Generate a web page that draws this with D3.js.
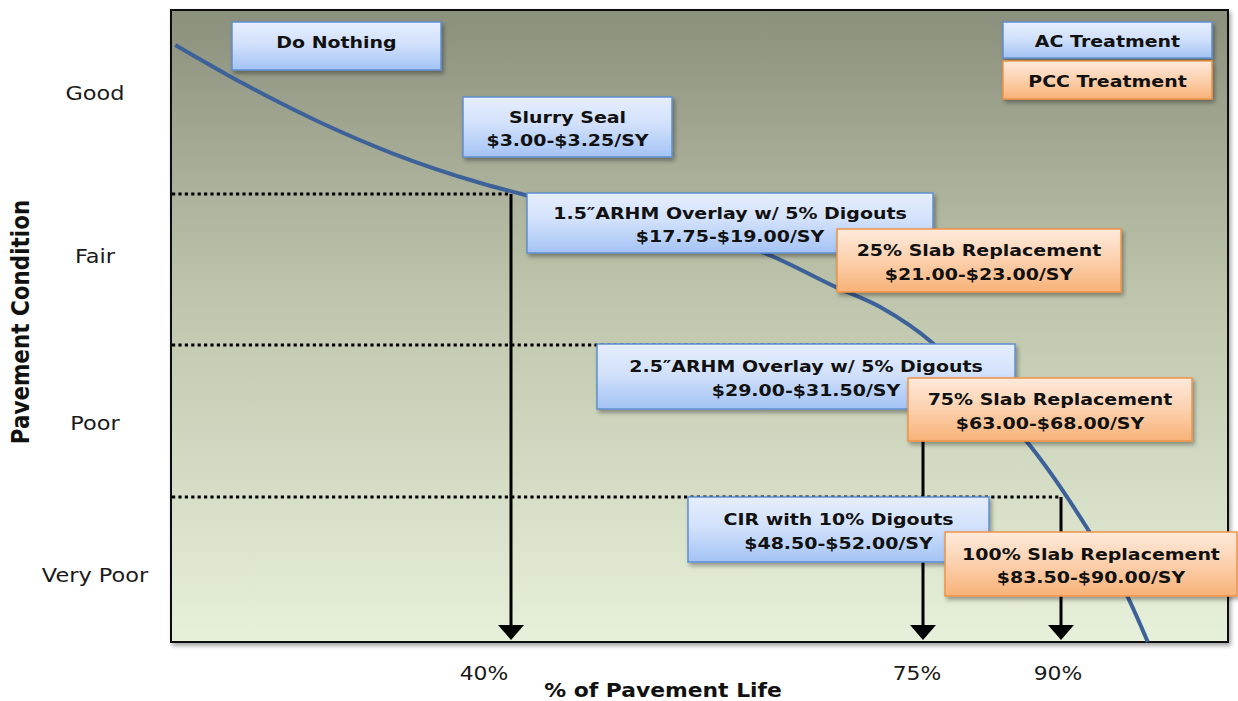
<!DOCTYPE html>
<html>
<head>
<meta charset="utf-8">
<script src="https://cdn.jsdelivr.net/npm/d3@7/dist/d3.min.js"></script>
<style>
  html, body { margin: 0; padding: 0; background: #ffffff; }
  svg { display: block; font-family: "DejaVu Sans", Verdana, sans-serif; }
</style>
</head>
<body>
<svg id="chart" width="1238" height="701"></svg>
<script>
// ---------------- data ----------------
// deterioration curve: % of pavement life vs condition index (0 = bottom, 4 = top)
const lifePct   = [0.5, 8.5, 17.5, 26.1, 36.4, 41.4, 51.6, 61.8, 67.7, 71.4, 76.1, 81.2, 86.6, 91.7, 94.0, 95.2];
const condition = [3.81, 3.60, 3.39, 3.22, 3.06, 2.99, 2.81, 2.60, 2.38, 2.25, 2.01, 1.69, 1.34, 0.76, 0.31, 0.0];

// condition categories (y axis) and their tick positions on the condition index
const conditionLabels = ["Good", "Fair", "Poor", "Very Poor"];
const conditionTicks  = [3.55, 2.59, 1.49, 0.46];

// trigger points (x tick labels)
const triggerPct    = [40, 75, 90];
const triggerLevel  = [3, 2, 1];
const triggerLabels = ["40%", "75%", "90%"];

// treatments
const treatmentName = ["Do Nothing", "Slurry Seal", "1.5\u2033ARHM Overlay w/ 5% Digouts", "25% Slab Replacement",
                       "2.5\u2033ARHM Overlay w/ 5% Digouts", "75% Slab Replacement", "CIR with 10% Digouts", "100% Slab Replacement"];
const treatmentCost = ["", "$3.00-$3.25/SY", "$17.75-$19.00/SY", "$21.00-$23.00/SY",
                       "$29.00-$31.50/SY", "$63.00-$68.00/SY", "$48.50-$52.00/SY", "$83.50-$90.00/SY"];
const treatmentType = ["AC", "AC", "AC", "PCC", "AC", "PCC", "AC", "PCC"];

const legendLabels = ["AC Treatment", "PCC Treatment"];
const legendTypes  = ["AC", "PCC"];

// ---------------- layout ----------------
const W = 1238, H = 701;
const plot = { left: 171, top: 10, right: 1228, bottom: 642 };
// annotation box geometry (x, y, w, h) in px
const boxLayout = [
  [232, 22, 209, 48], [463, 97, 209, 60], [527, 193, 406, 60], [837, 229, 284, 63],
  [597, 344, 418, 65], [908, 378, 284, 63], [688, 497, 301, 65], [945, 532, 292, 64]
];
const legendLayout = [[1003, 22, 209, 36], [1003, 61, 209, 38]];
const tickDx = [-27, -6, -3];
const SX = 1.15; // horizontal text stretch of the original slide

const svg = d3.select("#chart");
const defs = svg.append("defs");

const bg = defs.append("linearGradient").attr("id", "bg").attr("x1", 0).attr("y1", 0).attr("x2", 0).attr("y2", 1);
bg.append("stop").attr("offset", "0%").attr("stop-color", "#8b907d");
bg.append("stop").attr("offset", "45%").attr("stop-color", "#bec5ac");
bg.append("stop").attr("offset", "100%").attr("stop-color", "#e7f0da");

const gAC = defs.append("linearGradient").attr("id", "gAC").attr("x1", 0).attr("y1", 0).attr("x2", 0).attr("y2", 1);
gAC.append("stop").attr("offset", "0%").attr("stop-color", "#e6eefd");
gAC.append("stop").attr("offset", "45%").attr("stop-color", "#d2e1fb");
gAC.append("stop").attr("offset", "100%").attr("stop-color", "#a3c3f4");

const gPCC = defs.append("linearGradient").attr("id", "gPCC").attr("x1", 0).attr("y1", 0).attr("x2", 0).attr("y2", 1);
gPCC.append("stop").attr("offset", "0%").attr("stop-color", "#feeadc");
gPCC.append("stop").attr("offset", "45%").attr("stop-color", "#fcd3b2");
gPCC.append("stop").attr("offset", "100%").attr("stop-color", "#f8b278");

const sh = defs.append("filter").attr("id", "shadow").attr("x", "-10%").attr("y", "-20%").attr("width", "130%").attr("height", "160%");
sh.append("feDropShadow").attr("dx", 2).attr("dy", 3).attr("stdDeviation", 2).attr("flood-color", "#000").attr("flood-opacity", 0.35);

const fill = { AC: "url(#gAC)", PCC: "url(#gPCC)" };
const stroke = { AC: "#5f8fd0", PCC: "#f09447" };

// scales (piecewise, the schematic axis is not uniform)
const x = d3.scaleLinear().domain([0, 40, 75, 90, 100]).range([plot.left, 511, 923, 1061, plot.right]);
const y = d3.scaleLinear().domain([0, 1, 2, 3, 4]).range([plot.bottom, 497, 345, 194, plot.top]);

function stext(parent, tx, ty, str, size, bold) {
  return parent.append("text")
    .attr("transform", `translate(${tx},${ty}) scale(${SX},1)`)
    .attr("dy", "0.36em").attr("text-anchor", "middle")
    .attr("font-size", size).attr("font-weight", bold ? "bold" : "normal")
    .attr("fill", "#111").text(str);
}

// plot background + frame
svg.append("rect")
  .attr("x", plot.left).attr("y", plot.top)
  .attr("width", plot.right - plot.left).attr("height", plot.bottom - plot.top)
  .attr("fill", "url(#bg)").attr("stroke", "#111").attr("stroke-width", 2)
  .attr("filter", "url(#shadow)");

// curve
const curveData = lifePct.map((p, i) => ({ p, c: condition[i] }));
svg.append("path")
  .datum(curveData)
  .attr("d", d3.line().x(d => x(d.p)).y(d => y(d.c)).curve(d3.curveMonotoneX))
  .attr("fill", "none").attr("stroke", "#3d6299").attr("stroke-width", 4);

// dotted trigger lines & arrows
triggerPct.forEach((p, i) => {
  const xv = x(p), yv = y(triggerLevel[i]);
  svg.append("line")
    .attr("x1", plot.left + 1).attr("x2", xv).attr("y1", yv).attr("y2", yv)
    .attr("stroke", "#000").attr("stroke-width", 3).attr("stroke-dasharray", "3.2,3.2");
  svg.append("line")
    .attr("x1", xv).attr("x2", xv).attr("y1", yv).attr("y2", plot.bottom - 14)
    .attr("stroke", "#000").attr("stroke-width", 3);
  svg.append("path")
    .attr("d", `M${xv - 13},${plot.bottom - 17} L${xv + 13},${plot.bottom - 17} L${xv},${plot.bottom - 2} Z`)
    .attr("fill", "#000");
});

// treatment boxes
treatmentName.forEach((name, i) => {
  const [bx, by, bw, bh] = boxLayout[i];
  const t = treatmentType[i];
  const g = svg.append("g");
  g.append("rect").attr("x", bx).attr("y", by).attr("width", bw).attr("height", bh)
    .attr("fill", fill[t]).attr("stroke", stroke[t]).attr("stroke-width", 1.5)
    .attr("filter", "url(#shadow)");
  const cx = bx + bw / 2, cy = by + bh / 2;
  if (treatmentCost[i]) {
    stext(g, cx, cy - 10, name, 16.5, true);
    stext(g, cx, cy + 13.5, treatmentCost[i], 16.5, true);
  } else {
    stext(g, cx, cy - 4.3, name, 16.5, true);
  }
});

// legend
legendLabels.forEach((lab, i) => {
  const [bx, by, bw, bh] = legendLayout[i];
  const t = legendTypes[i];
  svg.append("rect").attr("x", bx).attr("y", by).attr("width", bw).attr("height", bh)
    .attr("fill", fill[t]).attr("stroke", stroke[t]).attr("stroke-width", 1.5)
    .attr("filter", "url(#shadow)");
  stext(svg, bx + bw / 2, by + bh / 2 + 1, lab, 16.5, true);
});

// y tick labels
conditionLabels.forEach((lab, i) => {
  stext(svg, 95, y(conditionTicks[i]), lab, 19.5, false).attr("fill", "#1a1a1a");
});

// x tick labels
triggerLabels.forEach((lab, i) => {
  stext(svg, x(triggerPct[i]) + tickDx[i], 673, lab, 19, false).attr("fill", "#1a1a1a");
});

// axis titles
stext(svg, 663, 690, "% of Pavement Life", 19, true);
svg.append("text").attr("transform", `translate(20,322) scale(${SX},1) rotate(-90)`).attr("dy", "0.36em")
  .attr("text-anchor", "middle").attr("font-weight", "bold").attr("font-size", 21.5).attr("fill", "#111")
  .text("Pavement Condition");
</script>
</body>
</html>
